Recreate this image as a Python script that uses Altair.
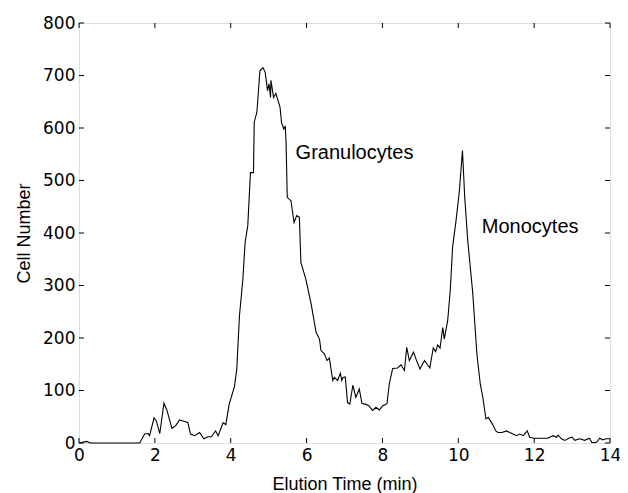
import altair as alt
import pandas as pd

# Elution time (min) and cell number
time_min = [0.0, 0.2, 0.3, 1.6, 1.73, 1.82, 1.86, 1.98, 2.04, 2.13, 2.24, 2.32, 2.45, 2.55,
            2.65, 2.74, 2.87, 2.94, 3.05, 3.18, 3.29, 3.40, 3.49, 3.60, 3.67, 3.80, 3.87,
            3.96, 4.10, 4.16, 4.23, 4.32, 4.38, 4.45, 4.52, 4.60, 4.62, 4.69, 4.77, 4.85,
            4.91, 4.97, 5.01, 5.05, 5.06, 5.13, 5.19, 5.30, 5.34, 5.40, 5.44, 5.46, 5.49,
            5.59, 5.67, 5.74, 5.81, 5.85, 5.98, 6.12, 6.25, 6.34, 6.38, 6.47, 6.54, 6.60,
            6.69, 6.73, 6.82, 6.89, 6.93, 6.96, 7.02, 7.08, 7.14, 7.22, 7.30, 7.39, 7.46,
            7.55, 7.64, 7.74, 7.83, 7.92, 8.01, 8.12, 8.18, 8.27, 8.40, 8.49, 8.58, 8.64,
            8.71, 8.82, 8.90, 8.99, 9.11, 9.19, 9.25, 9.34, 9.40, 9.46, 9.52, 9.59, 9.63,
            9.72, 9.79, 9.85, 9.94, 10.03, 10.11, 10.17, 10.25, 10.38, 10.49, 10.58, 10.64,
            10.73, 10.79, 10.90, 10.99, 11.05, 11.15, 11.27, 11.36, 11.44, 11.53, 11.62,
            11.71, 11.82, 11.88, 11.99, 12.10, 12.36, 12.50, 12.59, 12.63, 12.72, 12.81,
            12.91, 13.00, 13.07, 13.20, 13.33, 13.46, 13.52, 13.64, 13.73, 13.81, 13.90, 14.00]
cell_number = [0, 3, 0, 0, 17, 18, 14, 48, 42, 18, 76, 62, 28, 33,
               44, 42, 39, 17, 14, 20, 8, 12, 12, 23, 14, 39, 35,
               74, 108, 141, 242, 312, 382, 414, 515, 515, 611, 630, 709, 715,
               706, 671, 684, 658, 691, 658, 666, 640, 610, 598, 604, 570, 468,
               461, 420, 433, 430, 344, 312, 265, 211, 198, 176, 170, 157, 162,
               119, 125, 119, 133, 119, 125, 126, 77, 74, 110, 87, 103, 75,
               74, 71, 62, 68, 63, 71, 75, 112, 142, 143, 149, 138, 182,
               157, 173, 157, 141, 157, 149, 143, 181, 174, 187, 181, 220, 198,
               233, 293, 373, 423, 481, 557, 468, 385, 287, 170, 112, 90,
               46, 49, 36, 23, 20, 20, 23, 20, 17, 14, 17,
               14, 23, 11, 9, 9, 9, 14, 11, 15, 8, 5,
               9, 11, 5, 8, 5, 9, 1, 1, 9, 6, 8, 8]

x_ticks = [0, 2, 4, 6, 8, 10, 12, 14]
y_ticks = [0, 100, 200, 300, 400, 500, 600, 700, 800]

label_text = ["Granulocytes", "Monocytes"]
label_x = [5.71, 10.62]
label_y = [553, 412]

W, H = 531, 420
TICK = 5
FONT = "Liberation Sans"
TICK_FONT = "DejaVu Sans"

curve = pd.DataFrame({"t": time_min, "n": cell_number})
xt = pd.DataFrame({"t": x_ticks})
yt = pd.DataFrame({"n": y_ticks})
labels = pd.DataFrame({"label": label_text, "t": label_x, "n": label_y})

xscale = alt.Scale(domain=[0, 14], nice=False, zero=False)
yscale = alt.Scale(domain=[0, 800], nice=False)

line = alt.Chart(curve).mark_line(color="black", strokeWidth=1.1).encode(
    x=alt.X("t:Q", scale=xscale,
            axis=alt.Axis(title="Elution Time (min)", values=x_ticks, domain=False,
                          ticks=False, grid=False, labelFlush=False, labelFont=TICK_FONT,
                          labelFontSize=17, labelColor="black", labelPadding=4,
                          titleFont=FONT, titleFontSize=18, titleFontWeight="normal",
                          titleColor="black", titlePadding=12)),
    y=alt.Y("n:Q", scale=yscale,
            axis=alt.Axis(title="Cell Number", values=y_ticks, domain=False,
                          ticks=False, grid=False, labelFlush=False, labelFont=TICK_FONT,
                          labelFontSize=17, labelColor="black", labelPadding=4,
                          titleFont=FONT, titleFontSize=18, titleFontWeight="normal",
                          titleColor="black", titlePadding=9)),
)

tick_style = dict(color="black", strokeWidth=1)
bottom_ticks = alt.Chart(xt).mark_rule(**tick_style).encode(
    x=alt.X("t:Q", scale=xscale), y=alt.value(H), y2=alt.value(H - TICK))
top_ticks = alt.Chart(xt).mark_rule(**tick_style).encode(
    x=alt.X("t:Q", scale=xscale), y=alt.value(0), y2=alt.value(TICK))
left_ticks = alt.Chart(yt).mark_rule(**tick_style).encode(
    y=alt.Y("n:Q", scale=yscale), x=alt.value(0), x2=alt.value(TICK))
right_ticks = alt.Chart(yt).mark_rule(**tick_style).encode(
    y=alt.Y("n:Q", scale=yscale), x=alt.value(W), x2=alt.value(W - TICK))

text = alt.Chart(labels).mark_text(align="left", baseline="middle", font=FONT,
                                   fontSize=20, color="black").encode(
    x=alt.X("t:Q", scale=xscale), y=alt.Y("n:Q", scale=yscale), text="label:N")

chart = alt.layer(line, bottom_ticks, top_ticks, left_ticks, right_ticks, text).properties(
    width=W, height=H,
    padding={"left": 71, "top": 15, "right": 10, "bottom": 50},
    autosize=alt.AutoSizeParams(type="none"),
).configure_view(stroke="black", strokeWidth=1).configure(background="white")

chart.save("out.html", embed_options={"renderer": "svg", "actions": False})
